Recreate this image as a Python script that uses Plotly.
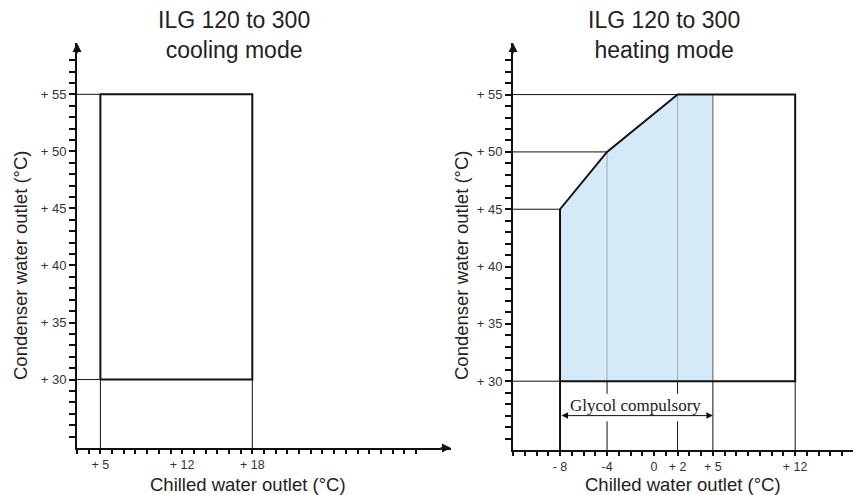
import plotly.graph_objects as go

# ---------------- data ----------------
cool_x = [5, 18]            # chilled water outlet limits (cooling)
cool_y = [30, 55]           # condenser water outlet limits (cooling)
cool_xticks = [5, 12, 18]
cool_xtext = ["+ 5", "+ 12", "+ 18"]

heat_x = [-8, -8, -4, 2, 12, 12]     # heating envelope
heat_y = [30, 45, 50, 55, 55, 30]
glycol_x = [-8, -8, -4, 2, 5, 5]      # glycol compulsory zone
glycol_y = [30, 45, 50, 55, 55, 30]
heat_xticks = [-8, -4, 0, 2, 5, 12]
heat_xtext = ["- 8", "-4", "0", "+ 2", "+ 5", "+ 12"]

y_ticks = [30, 35, 40, 45, 50, 55]
y_text = ["+ 30", "+ 35", "+ 40", "+ 45", "+ 50", "+ 55"]

glycol_arrow_y = 27
Y_MIN, Y_MAX = 24, 59.5
XL_MIN, XL_MAX = 3, 35
XR_MIN, XR_MAX = -12, 17.6

FONT = "Liberation Sans, Arial, sans-serif"
BLACK = "#111111"
W, H = 853, 487   # page body has an 8px margin

fig = go.Figure()

def line(xs, ys, xa, ya, width=1, color=BLACK):
    fig.add_trace(go.Scatter(x=xs, y=ys, mode="lines", xaxis=xa, yaxis=ya,
                             line=dict(color=color, width=width),
                             hoverinfo="skip", showlegend=False))

# ---------------- left: cooling ----------------
x0, x1 = cool_x
y0, y1 = cool_y
line([XL_MIN, x0, None, XL_MIN, x0, None, x0, x0, None, x1, x1],
     [y1, y1, None, y0, y0, None, y0, Y_MIN, None, y0, Y_MIN], "x", "y", 1)
line([x0, x0, x1, x1, x0], [y0, y1, y1, y0, y0], "x", "y", 2)

# ---------------- right: heating ----------------
fig.add_trace(go.Scatter(x=glycol_x, y=glycol_y, mode="lines", fill="toself",
                         fillcolor="#d5eaf8", line=dict(width=0),
                         xaxis="x2", yaxis="y2", hoverinfo="skip", showlegend=False))
line([-4, -4, None, 2, 2], [30, 50, None, 30, 55], "x2", "y2", 1.2, "#a9b4bc")
line([5, 5], [30, 55], "x2", "y2", 1.2, "#6d7378")
hx = [XR_MIN, 2, None, XR_MIN, -4, None, XR_MIN, -8, None, XR_MIN, -8, None,
      -4, -4, None, -4, -4, None, 2, 2, None, 2, 2, None, 5, 5, None, 12, 12]
hy = [55, 55, None, 50, 50, None, 45, 45, None, 30, 30, None,
      30, 28.9, None, 26.5, Y_MIN, None, 30, 28.9, None, 26.5, Y_MIN, None,
      30, Y_MIN, None, 30, Y_MIN]
line(hx, hy, "x2", "y2", 1)
line(heat_x + [heat_x[0]], heat_y + [heat_y[0]], "x2", "y2", 2)
line([-8, -8], [30, Y_MIN], "x2", "y2", 2)

# glycol arrow
fig.add_annotation(x=glycol_x[-1], y=glycol_arrow_y, ax=glycol_x[0], ay=glycol_arrow_y,
                   xref="x2", yref="y2", axref="x2", ayref="y2", text="",
                   showarrow=True, arrowhead=2, arrowside="end+start",
                   arrowsize=1.3, arrowwidth=1, arrowcolor=BLACK)
fig.add_annotation(x=-1.55, y=glycol_arrow_y, xref="x2", yref="y2", xanchor="center",
                   text="Glycol compulsory", showarrow=False, yanchor="bottom", yshift=-1,
                   font=dict(family="Liberation Serif, Times New Roman, serif", size=17, color="#222"))

# axis arrows
for xr, yr, xv in [("x", "y", XL_MIN), ("x2", "y2", XR_MIN)]:
    fig.add_annotation(x=xv, y=Y_MAX, xref=xr, yref=yr, ax=0, ay=12, text="",
                       showarrow=True, arrowhead=2, arrowsize=1.2, arrowwidth=1.5,
                       arrowcolor=BLACK, standoff=0)
fig.add_annotation(x=XL_MAX, y=Y_MIN, xref="x", yref="y", ax=-12, ay=0, text="",
                   showarrow=True, arrowhead=2, arrowsize=1.2, arrowwidth=1.5,
                   arrowcolor=BLACK, standoff=0)

# titles
for cx, txt in [(226 / W, "ILG 120 to 300<br>cooling mode"), (656 / W, "ILG 120 to 300<br>heating mode")]:
    fig.add_annotation(x=cx, y=1.0, xref="paper", yref="paper", xanchor="center",
                       yanchor="top", yshift=3, text=txt, showarrow=False,
                       font=dict(family=FONT, size=23, color="#222"))
# axis titles
for cx in [240 / W, 675 / W]:
    fig.add_annotation(x=cx, y=11 / H, xref="paper", yref="paper", xanchor="center",
                       yanchor="middle", text="Chilled water outlet (°C)", showarrow=False,
                       font=dict(family=FONT, size=18.5, color="#222"))
for cx in [12 / W, 453 / W]:
    fig.add_annotation(x=cx, y=230 / H, xref="paper", yref="paper", textangle=-90,
                       xanchor="center", yanchor="middle",
                       text="Condenser water outlet (°C)", showarrow=False,
                       font=dict(family=FONT, size=18.5, color="#222"))

def xaxis(dom, rng, tick_vals, tick_text, n0, n1, anchor):
    vals = list(range(n0, n1 + 1))
    txt = [tick_text[tick_vals.index(v)] if v in tick_vals else "" for v in vals]
    return dict(domain=dom, range=rng, anchor=anchor, showline=True, linewidth=2,
                linecolor=BLACK, ticks="outside", ticklen=4, tickwidth=1.5, tickcolor=BLACK,
                tickvals=vals, ticktext=txt, showgrid=False, zeroline=False,
                tickfont=dict(family=FONT, size=12.5, color="#333"), fixedrange=True)

def yaxis(dom, anchor):
    vals = list(range(25, 59))
    txt = [y_text[y_ticks.index(v)] if v in y_ticks else "" for v in vals]
    return dict(domain=dom, range=[Y_MIN, Y_MAX], anchor=anchor, showline=True,
                linewidth=2, linecolor=BLACK, ticks="outside", ticklen=6, tickwidth=1.5,
                tickcolor=BLACK, tickvals=vals, ticktext=txt, showgrid=False,
                zeroline=False, tickfont=dict(family=FONT, size=13, color="#333"),
                fixedrange=True)

fig.update_layout(
    width=W, height=H, margin=dict(l=0, r=0, t=0, b=0),
    paper_bgcolor="white", plot_bgcolor="white", showlegend=False,
    xaxis=xaxis([69 / W, 443 / W], [XL_MIN, XL_MAX], cool_xticks, cool_xtext, 3, 32, "y"),
    yaxis=yaxis([47 / H, 452 / H], "x"),
    xaxis2=xaxis([505 / W, 1.0], [XR_MIN, XR_MAX], heat_xticks, heat_xtext, -12, 17, "y2"),
    yaxis2=yaxis([45 / H, 452 / H], "x2"),
)

fig.write_html("out.html")
